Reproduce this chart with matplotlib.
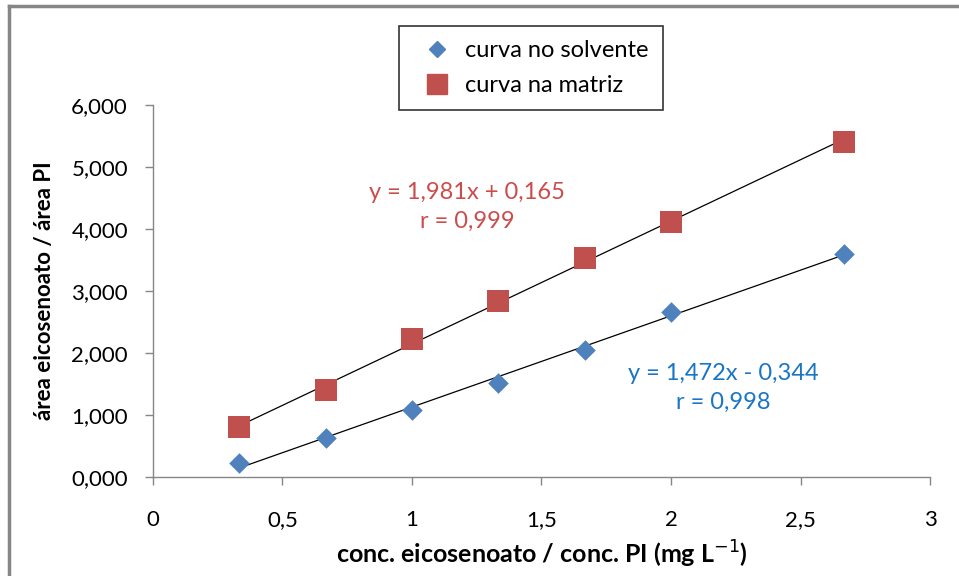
import numpy as np
import matplotlib.pyplot as plt
from matplotlib.lines import Line2D

plt.rcParams['font.family'] = ['Lato', 'DejaVu Sans']

# concentration ratios (mg L-1) and area ratios
conc = [0.333, 0.667, 1.0, 1.333, 1.667, 2.0, 2.667]
solvente = [0.22, 0.63, 1.08, 1.51, 2.05, 2.66, 3.60]
matriz = [0.80, 1.40, 2.22, 2.84, 3.53, 4.12, 5.40]

# linear fits as reported
fit_solv = (1.472, -0.344)
fit_matr = (1.981, 0.165)
r_solv = 0.998
r_matr = 0.999

x_ticks = [0, 0.5, 1, 1.5, 2, 2.5, 3]
y_ticks = [0, 1, 2, 3, 4, 5, 6]

blue = '#4F81BD'
red = '#C0504D'
gray = '#868686'


def br(v, nd):
    return f'{v:.{nd}f}'.replace('.', ',')


fig = plt.figure(figsize=(9.59, 5.76), dpi=100)
ax = fig.add_axes([0.1595, 0.1719, 0.9698 - 0.1595, 0.8177 - 0.1719])

xs = np.array([min(conc), max(conc)])
for (a, b) in (fit_solv, fit_matr):
    ax.plot(xs, a * xs + b, color='black', lw=0.9, zorder=1)

ax.scatter(conc, solvente, marker='D', s=110, color=blue, zorder=2, linewidths=0)
ax.scatter(conc, matriz, marker='s', s=250, color=red, zorder=2, linewidths=0)

ax.set_xlim(0, 3)
ax.set_ylim(0, 6)
ax.set_xticks(x_ticks)
ax.set_xticklabels([br(v, 1) if v % 1 else f'{int(v)}' for v in x_ticks])
ax.set_yticks(y_ticks)
ax.set_yticklabels([br(v, 3) for v in y_ticks])

for s in ('top', 'right'):
    ax.spines[s].set_visible(False)
for s in ('left', 'bottom'):
    ax.spines[s].set_color(gray)
    ax.spines[s].set_linewidth(1)
ax.tick_params(axis='both', colors=gray, length=6, width=1, labelcolor='black',
               labelsize=16)
ax.tick_params(axis='x', pad=18)
ax.tick_params(axis='y', pad=12)

ax.set_xlabel('conc. eicosenoato / conc. PI (mg L$^{-1}$)', fontsize=18,
              fontweight='bold', labelpad=6)
ax.set_ylabel('área eicosenoato / área PI', fontsize=16, fontweight='bold',
              labelpad=12)

ax.text(1.212, 4.35, f'y = {br(fit_matr[0], 3)}x + {br(fit_matr[1], 3)}\nr = {br(r_matr, 3)}',
        color='#CC4B4B', fontsize=17, ha='center', va='center', linespacing=1.45)
ax.text(2.2, 1.435, f'y = {br(fit_solv[0], 3)}x - {br(-fit_solv[1], 3)}\nr = {br(r_solv, 3)}',
        color='#1A75C4', fontsize=17, ha='center', va='center', linespacing=1.45)

handles = [
    Line2D([], [], marker='D', color=blue, ls='none', markersize=8),
    Line2D([], [], marker='s', color=red, ls='none', markersize=14),
]
leg = fig.legend(handles, ['curva no solvente', 'curva na matriz'],
                 loc='center', bbox_to_anchor=(531 / 959, 1 - 68 / 576),
                 fontsize=17, frameon=True, fancybox=False, edgecolor='black',
                 handletextpad=0.2, labelspacing=0.6, borderpad=0.6,
                 handlelength=2.0, borderaxespad=0)
leg.get_frame().set_linewidth(1.2)

# outer frame on the top and left
fig.add_artist(Line2D([9 / 959, 9 / 959], [0, 1 - 6 / 576], color=gray, lw=2.5,
                      transform=fig.transFigure))
fig.add_artist(Line2D([9 / 959, 1], [1 - 6 / 576, 1 - 6 / 576], color=gray, lw=2.5,
                      transform=fig.transFigure))

fig.savefig('out.png', dpi=100)
